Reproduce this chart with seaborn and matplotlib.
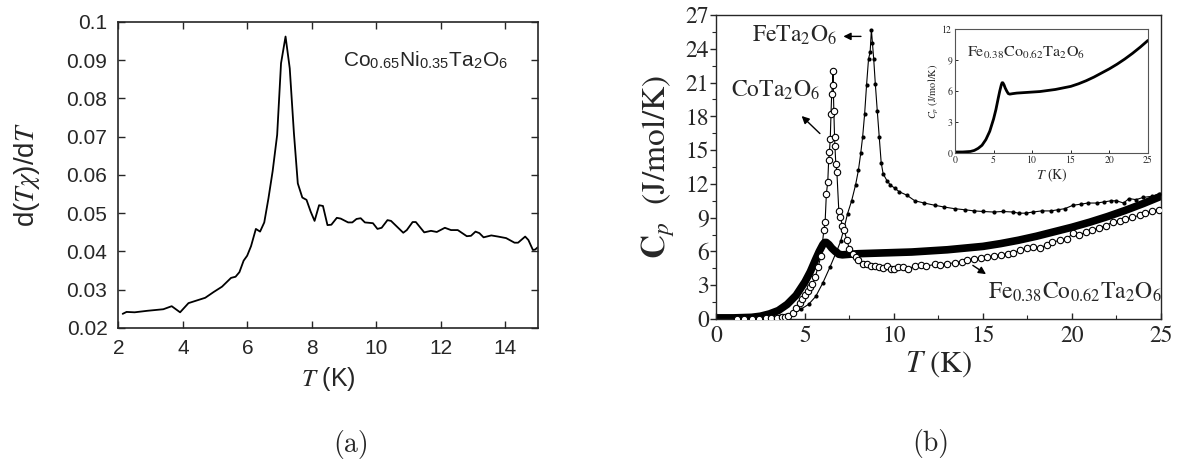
import matplotlib
matplotlib.use("Agg")
import matplotlib.pyplot as plt
from matplotlib.ticker import MultipleLocator
import seaborn as sns

# (a) d(T chi)/dT of Co0.65Ni0.35Ta2O6
t_chi = [2.13, 2.25, 2.5, 2.9, 3.39, 3.65, 3.91, 4.17, 4.43, 4.69, 4.95, 5.21,
         5.49, 5.63, 5.75, 5.88, 5.99, 6.11, 6.26, 6.39, 6.52, 6.65, 6.78, 6.92,
         7.04, 7.18, 7.31, 7.44, 7.56, 7.70, 7.83, 7.96, 8.08, 8.22, 8.34, 8.48,
         8.60, 8.77, 8.89, 9.12, 9.25, 9.38, 9.51, 9.64, 9.89, 10.03, 10.16,
         10.34, 10.45, 10.83, 10.94, 11.12, 11.22, 11.48, 11.69, 11.87, 12.12,
         12.31, 12.52, 12.80, 12.93, 13.07, 13.19, 13.32, 13.56, 13.77, 14.02,
         14.28, 14.39, 14.61, 14.71, 14.85, 14.92, 15.0]
dtchi = [0.0237, 0.0242, 0.0241, 0.0245, 0.0249, 0.0257, 0.0241, 0.0265, 0.0272,
         0.0279, 0.0294, 0.0308, 0.0331, 0.0334, 0.0346, 0.0376, 0.0389, 0.0414,
         0.0459, 0.0452, 0.0476, 0.0539, 0.0610, 0.0705, 0.0892, 0.0962, 0.0879,
         0.0709, 0.0578, 0.0541, 0.0535, 0.0504, 0.0480, 0.0521, 0.0519, 0.0469,
         0.0470, 0.0488, 0.0486, 0.0476, 0.0476, 0.0485, 0.0487, 0.0476, 0.0474,
         0.0459, 0.0462, 0.0482, 0.0480, 0.0449, 0.0456, 0.0477, 0.0477, 0.0450,
         0.0454, 0.0451, 0.0462, 0.0456, 0.0456, 0.0440, 0.0441, 0.0452, 0.0448,
         0.0437, 0.0442, 0.0439, 0.0435, 0.0423, 0.0423, 0.0439, 0.0430, 0.0404,
         0.0405, 0.0411]
chi_xticks = [2, 4, 6, 8, 10, 12, 14]
chi_yticks = [0.02, 0.03, 0.04, 0.05, 0.06, 0.07, 0.08, 0.09, 0.1]
chi_yticklabels = ["0.02", "0.03", "0.04", "0.05", "0.06", "0.07", "0.08", "0.09", "0.1"]

# (b) heat capacity
t_fe = [1.2, 1.6, 2.0, 2.4, 2.8, 3.2, 3.6, 4.0, 4.4, 4.8, 5.2, 5.6, 6.0, 6.4, 6.8,
        7.0, 7.17, 7.39, 7.62, 7.84, 8.0, 8.13, 8.24, 8.35, 8.46, 8.57, 8.66, 8.73,
        8.79, 8.86, 8.95, 9.06, 9.17, 9.28, 9.39, 9.6, 9.8, 10.06, 10.3, 10.72,
        11.17, 11.7, 12.3, 12.8, 13.4, 14.0, 14.5, 15.0, 15.6, 16.1, 16.7, 17.0,
        17.4, 17.8, 18.3, 18.8, 19.2, 19.6, 20.05, 20.5, 20.9, 21.4, 21.8, 22.2,
        22.5, 22.9, 23.2, 23.6, 24.0, 24.5, 24.9]
cp_fe = [0.05, 0.05, 0.08, 0.1, 0.12, 0.15, 0.25, 0.4, 0.6, 0.9, 1.3, 2.0, 3.2,
         4.6, 6.1, 6.9, 7.9, 9.35, 10.5, 11.9, 13.2, 14.7, 16.2, 18.2, 20.8, 23.1,
         23.7, 25.7, 24.5, 23.1, 20.9, 18.5, 16.2, 13.9, 12.9, 12.3, 11.9, 11.6,
         11.3, 11.0, 10.5, 10.3, 10.1, 9.95, 9.8, 9.7, 9.6, 9.55, 9.5, 9.55, 9.5,
         9.4, 9.4, 9.5, 9.6, 9.6, 9.7, 9.8, 10.1, 10.2, 10.3, 10.3, 10.4, 10.5,
         10.5, 10.3, 10.7, 10.6, 10.8, 10.9, 11.1]

t_co = [1.2, 1.6, 2.0, 2.4, 2.8, 3.1, 3.4, 3.7, 3.9, 4.06, 4.3, 4.5, 4.7, 4.84,
        5.0, 5.17, 5.3, 5.4, 5.57, 5.73, 5.9, 6.06, 6.13, 6.2, 6.28, 6.33, 6.37,
        6.42, 6.46, 6.5, 6.55, 6.57, 6.62, 6.66, 6.68, 6.73, 6.79, 6.9, 6.99, 7.1,
        7.2, 7.35, 7.5, 7.7, 7.84, 8.0, 8.28, 8.5, 8.73, 8.95, 9.17, 9.4, 9.6,
        9.84, 10.0, 10.2, 10.5, 10.8, 11.17, 11.5, 11.8, 12.3, 12.6, 13.0, 13.4,
        13.8, 14.1, 14.5, 14.9, 15.2, 15.6, 16.0, 16.4, 16.7, 17.1, 17.5, 17.8,
        18.2, 18.6, 18.9, 19.3, 19.7, 20.05, 20.4, 20.8, 21.15, 21.5, 21.9, 22.3,
        22.7, 23.0, 23.4, 23.8, 24.1, 24.5, 24.9]
cp_co = [0.02, 0.02, 0.03, 0.04, 0.06, 0.08, 0.12, 0.18, 0.22, 0.3, 0.55, 1.0,
         1.4, 1.8, 2.1, 2.5, 2.8, 3.1, 3.7, 4.6, 5.6, 7.9, 8.6, 11.1, 12.2, 14.1,
         14.8, 16.0, 18.2, 20.0, 20.8, 22.0, 18.5, 16.2, 15.4, 13.8, 13.1, 9.6,
         9.05, 8.3, 7.9, 7.0, 6.2, 5.8, 5.5, 5.2, 4.9, 4.85, 4.75, 4.7, 4.6, 4.5,
         4.7, 4.45, 4.4, 4.6, 4.6, 4.4, 4.75, 4.8, 4.7, 4.85, 4.8, 4.9, 5.0, 5.1,
         5.2, 5.35, 5.4, 5.5, 5.6, 5.7, 5.8, 5.9, 6.1, 6.3, 6.4, 6.3, 6.6, 6.8,
         7.0, 7.1, 7.6, 7.5, 7.7, 7.9, 8.1, 8.3, 8.6, 8.7, 8.9, 9.05, 9.2, 9.4,
         9.6, 9.7]

t_mix = [0, 1, 2, 2.5, 3, 3.5, 4, 4.5, 5, 5.3, 5.6, 5.8, 6.0, 6.1, 6.2, 6.35, 6.5,
         6.7, 6.9, 7.1, 7.5, 8, 9, 10, 11, 12, 13, 14, 15, 16, 17, 18, 19, 20, 21,
         22, 23, 24, 25]
cp_mix = [0.1, 0.1, 0.15, 0.25, 0.45, 0.75, 1.3, 2.1, 3.3, 4.2, 5.3, 6.0, 6.6,
          6.8, 6.8, 6.6, 6.3, 6.0, 5.75, 5.7, 5.75, 5.8, 5.85, 5.9, 5.95, 6.05,
          6.15, 6.3, 6.45, 6.7, 7.0, 7.35, 7.75, 8.15, 8.6, 9.1, 9.65, 10.25, 10.9]

sns.set_style("ticks")
plt.rcParams["font.family"] = ["STIXGeneral", "DejaVu Serif"]
plt.rcParams["mathtext.fontset"] = "stix"

fig = plt.figure(figsize=(11.79, 4.63), dpi=100)

# ---- panel (a)
ax1 = fig.add_axes([0.1005, 0.2916, 0.3556, 0.6609])
sns.lineplot(x=t_chi, y=dtchi, ax=ax1, color="k", linewidth=1.3,
             estimator=None, sort=False)
ax1.set_xlim(2, 15)
ax1.set_ylim(0.02, 0.1)
ax1.set_xticks(chi_xticks)
ax1.set_yticks(chi_yticks)
ax1.set_yticklabels(chi_yticklabels)
ax1.tick_params(direction="in", length=5, width=1, top=True, right=True,
                labelsize=15, pad=8)
for lab in ax1.get_xticklabels() + ax1.get_yticklabels():
    lab.set_family("Liberation Sans")
for sp in ax1.spines.values():
    sp.set_linewidth(1.2)
ax1.set_xlabel(r"$T$ (K)", fontsize=18, family="Liberation Sans", labelpad=5)
ax1.set_ylabel(r"d($T\chi$)/d$T$", fontsize=20, family="Liberation Sans", labelpad=18)
ax1.text(8.96, 0.0883, r"Co$_{\mathdefault{0.65}}$Ni$_{\mathdefault{0.35}}$Ta$_{\mathdefault{2}}$O$_{\mathdefault{6}}$",
         fontsize=15, family="Liberation Sans", va="baseline", ha="left")

# ---- panel (b)
ax2 = fig.add_axes([0.6073, 0.311, 0.3774, 0.6566])
sns.lineplot(x=t_mix, y=cp_mix, ax=ax2, color="k", linewidth=5.5,
             estimator=None, sort=False, zorder=2)
sns.lineplot(x=t_fe, y=cp_fe, ax=ax2, color="k", linewidth=0.8, marker="o",
             markersize=3.0, markeredgewidth=0, estimator=None, sort=False, zorder=3)
sns.lineplot(x=t_co, y=cp_co, ax=ax2, color="k", linewidth=0.8, marker="o",
             markersize=4.6, markerfacecolor="white", markeredgecolor="k",
             markeredgewidth=0.8, estimator=None, sort=False, zorder=4)
ax2.set_xlim(0, 25)
ax2.set_ylim(0, 27)
ax2.xaxis.set_major_locator(MultipleLocator(5))
ax2.xaxis.set_minor_locator(MultipleLocator(2.5))
ax2.yaxis.set_major_locator(MultipleLocator(3))
ax2.yaxis.set_minor_locator(MultipleLocator(1.5))
ax2.tick_params(axis="x", which="both", direction="in", labelsize=17, pad=5)
ax2.tick_params(axis="y", which="both", direction="out", labelsize=17, pad=1)
ax2.tick_params(which="major", length=4, width=1)
ax2.tick_params(which="minor", length=3, width=0.8)
for sp in ax2.spines.values():
    sp.set_linewidth(1.0)
ax2.set_xlabel(r"$T$ (K)", fontsize=22, labelpad=1)
ax2.set_ylabel(r"$\mathbf{C}_p$  (J/mol/K)", fontsize=24, labelpad=6)

ax2.text(4.4, 24.6, r"FeTa$_2$O$_6$", fontsize=17, ha="center", va="baseline")
ax2.annotate("", xy=(7.0, 25.1), xytext=(8.3, 25.1),
             arrowprops=dict(arrowstyle="-|>", color="k", lw=1.0, mutation_scale=11))
ax2.text(3.35, 19.7, r"CoTa$_2$O$_6$", fontsize=17, ha="center", va="baseline")
ax2.annotate("", xy=(4.7, 18.2), xytext=(5.95, 16.3),
             arrowprops=dict(arrowstyle="-|>", color="k", lw=1.0, mutation_scale=11))
ax2.text(15.3, 1.8, r"Fe$_{0.38}$Co$_{0.62}$Ta$_2$O$_6$", fontsize=17,
         ha="left", va="baseline")
ax2.annotate("", xy=(15.3, 3.85), xytext=(14.3, 4.9),
             arrowprops=dict(arrowstyle="-|>", color="k", lw=1.0, mutation_scale=11))

# inset
ax3 = fig.add_axes([0.81, 0.6695, 0.1637, 0.2678])
sns.lineplot(x=t_mix, y=cp_mix, ax=ax3, color="k", linewidth=2.0,
             estimator=None, sort=False)
ax3.set_xlim(0, 25)
ax3.set_ylim(0, 12)
ax3.set_xticks([0, 5, 10, 15, 20, 25])
ax3.set_yticks([0, 3, 6, 9, 12])
ax3.tick_params(direction="in", length=2.5, width=0.7, labelsize=7, pad=2)
for sp in ax3.spines.values():
    sp.set_linewidth(0.8)
    sp.set_color("#555555")
ax3.set_xlabel(r"$T$ (K)", fontsize=10, labelpad=1)
ax3.set_ylabel(r"$C_p$ (J/mol/K)", fontsize=7.5, labelpad=1)
ax3.text(1.5, 9.3, r"Fe$_{0.38}$Co$_{0.62}$Ta$_2$O$_6$", fontsize=11.5,
         ha="left", va="baseline")

fig.text(0.2977, 0.039, "(a)", fontsize=20, family="cmr10", ha="center", va="center")
fig.text(0.7896, 0.043, "(b)", fontsize=20, family="cmr10", ha="center", va="center")

plt.savefig("out.png", dpi=100, facecolor="white")
